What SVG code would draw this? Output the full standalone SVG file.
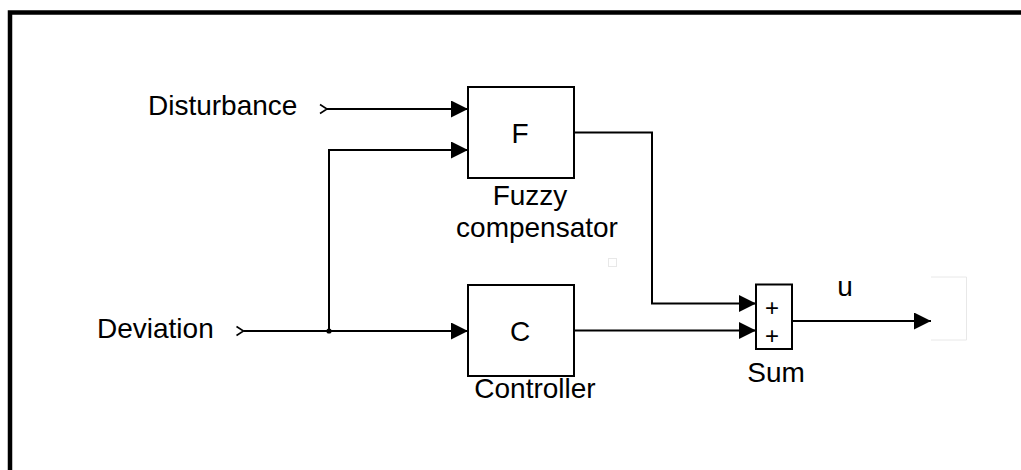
<svg xmlns="http://www.w3.org/2000/svg" width="1021" height="470" viewBox="0 0 1021 470">
<style>
text{font-family:"Liberation Sans",Arial,sans-serif;font-size:28px;fill:#000}
.c{text-anchor:middle}
.pl{font-size:24px}
.blk{fill:#fff;stroke:#000;stroke-width:2}
.ln{fill:none;stroke:#000;stroke-width:2}
.ch{fill:none;stroke:#000;stroke-width:1.6}
.faint{fill:none;stroke:#e8e8e8;stroke-width:1}
</style>
<defs>
<marker id="ah" markerUnits="userSpaceOnUse" markerWidth="17" markerHeight="17" viewBox="0 0 17 17" refX="17" refY="8.5" orient="auto">
<path d="M0,0 L17,8.5 L0,17 Z" fill="#000"/>
</marker>
</defs>
<rect x="10" y="12.5" width="1100" height="500" fill="#fff" stroke="#000" stroke-width="4.5"/>
<rect class="faint" x="608.5" y="258.5" width="8" height="8"/>
<path class="faint" d="M931,277 H966.5 V340 H931"/>
<g id="disturbance">
<text x="148" y="115">Disturbance</text>
<path class="ch" d="M320,104.5 L327,109 L320,113.5"/>
</g>
<g id="deviation">
<text x="97" y="338">Deviation</text>
<path class="ch" d="M236.5,326.5 L243.5,331 L236.5,335.5"/>
</g>
<g id="fuzzy">
<rect class="blk" x="468" y="87" width="106" height="91"/>
<text class="c" x="520" y="143">F</text>
<text class="c" x="530" y="205">Fuzzy</text>
<text class="c" x="537" y="237">compensator</text>
</g>
<g id="controller">
<rect class="blk" x="468" y="285" width="106" height="91"/>
<text class="c" x="520" y="341">C</text>
<text class="c" x="535" y="398">Controller</text>
</g>
<g id="sum">
<rect class="blk" x="756" y="284.5" width="36" height="64.5"/>
<text class="c pl" x="772" y="316">+</text>
<text class="c pl" x="772" y="343.5">+</text>
<text class="c" x="776" y="382">Sum</text>
</g>
<g id="connectors">
<path class="ln" d="M327,109 H468" marker-end="url(#ah)"/>
<path class="ln" d="M243.5,331 H468" marker-end="url(#ah)"/>
<path class="ln" d="M329,331 V150 H468" marker-end="url(#ah)"/>
<circle cx="329" cy="331" r="2.6" fill="#000"/>
<path class="ln" d="M574,132.5 H652 V303.5 H756" marker-end="url(#ah)"/>
<path class="ln" d="M574,330.5 H756" marker-end="url(#ah)"/>
<path class="ln" d="M792,321 H931" marker-end="url(#ah)"/>
<text class="c" x="845" y="296">u</text>
</g>
</svg>
